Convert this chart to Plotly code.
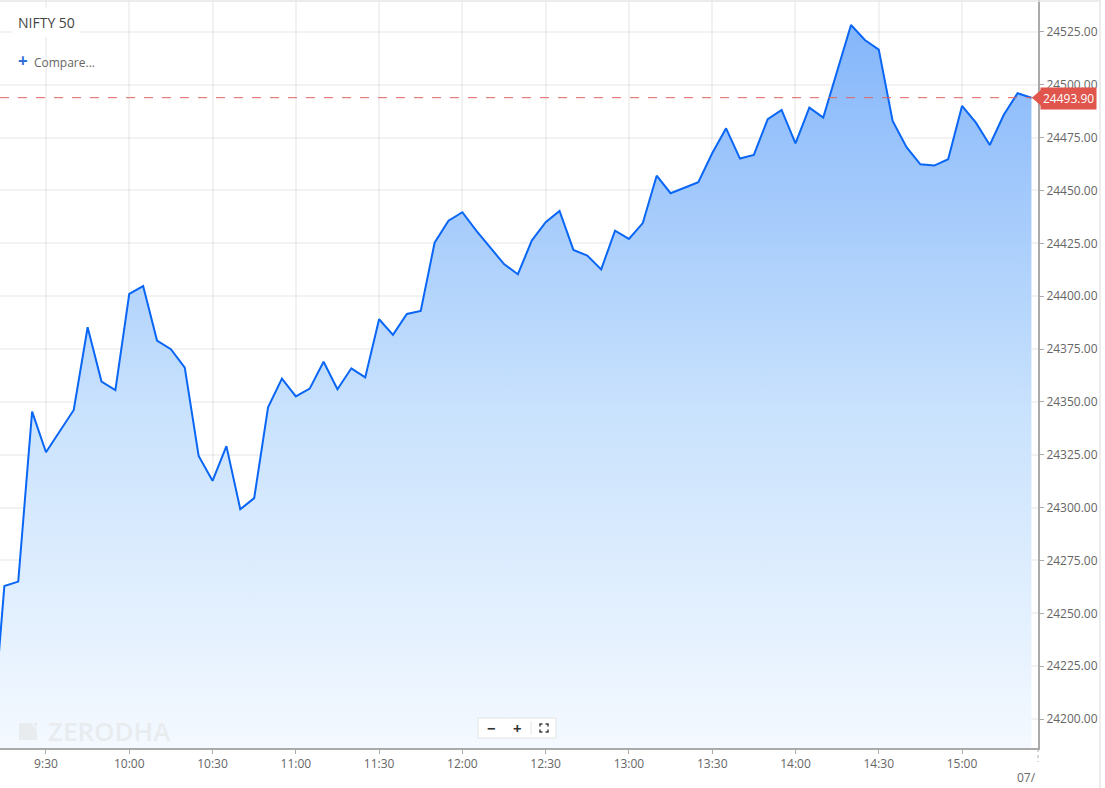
import pandas as pd
import plotly.graph_objects as go

# ---- data (5-minute closes, NIFTY 50) ----
session_day = "2024-10-04"
first_time = "09:10"
prices = [
    24182.0,                                                   # 09:10 (prior)
    24262.9, 24265.0, 24345.4, 24326.2, 24336.2, 24346.2,      # 09:15 - 09:40
    24385.3, 24359.6, 24355.6, 24401.1, 24404.8, 24379.0,      # 09:45 - 10:10
    24374.9, 24366.2, 24324.4, 24312.7, 24329.1, 24299.2,      # 10:15 - 10:40
    24304.5, 24347.4, 24361.0, 24352.6, 24356.3, 24369.0,      # 10:45 - 11:10
    24356.0, 24365.9, 24361.6, 24389.1, 24381.7, 24391.6,      # 11:15 - 11:40
    24393.0, 24425.3, 24435.7, 24439.7, 24431.0, 24423.0,      # 11:45 - 12:10
    24415.2, 24410.4, 24426.3, 24435.0, 24440.3, 24421.9,      # 12:15 - 12:40
    24419.2, 24412.7, 24431.0, 24427.1, 24434.6, 24457.0,      # 12:45 - 13:10
    24448.7, 24451.3, 24453.9, 24467.6, 24479.4, 24465.1,      # 13:15 - 13:40
    24466.8, 24483.7, 24488.1, 24472.3, 24489.2, 24484.5,      # 13:45 - 14:10
    24506.4, 24528.3, 24521.2, 24516.6, 24482.9, 24470.5,      # 14:15 - 14:40
    24462.4, 24461.8, 24464.8, 24490.0, 24482.1, 24471.5,      # 14:45 - 15:10
    24485.7, 24496.0, 24493.9,                                 # 15:15 - 15:25
]
last_price = 24493.90
instrument = "NIFTY 50"
watermark = "ZERODHA"
next_day_label = "07/"

times = pd.date_range(f"{session_day} {first_time}", periods=len(prices), freq="5min")

W, H = 1105, 788
PL, PR, PT, PB = 0, 1038, 0, 748
pw, ph = PR - PL, PB - PT

def px(x):
    return (x - PL) / pw

def py(y):
    return 1 - (y - PT) / ph

x_start = pd.Timestamp(f"{session_day} 09:13:26")
x_end = pd.Timestamp(f"{session_day} 15:27:22")
y_lo, y_hi = 24186.3, 24540.1

fig = go.Figure()
fig.add_trace(go.Scatter(
    x=times, y=prices, mode="lines",
    line=dict(color="#0a66f5", width=2),
    fill="tozeroy",
    fillgradient=dict(
        type="vertical",
        start=y_lo, stop=y_hi,
        colorscale=[[0, "rgba(244,249,255,1)"], [0.45, "#c9e2fd"], [1, "#80b3fa"]],
    ),
    hoverinfo="skip",
    showlegend=False,
))

font_family = "Open Sans, Noto Sans, sans-serif"

fig.update_layout(
    width=W, height=H,
    margin=dict(l=PL, r=W - PR, t=PT, b=H - PB),
    paper_bgcolor="white", plot_bgcolor="white",
    font=dict(family=font_family, size=12, color="#666"),
    xaxis=dict(
        range=[x_start, x_end],
        tick0=f"{session_day} 09:00", dtick=30 * 60 * 1000,
        tickformat="%-H:%M",
        showgrid=True, gridcolor="rgba(0,0,0,0.05)", gridwidth=1.5,
        showline=True, linecolor="#aaaaaa", linewidth=2,
        ticks="outside", ticklen=4, tickcolor="#aaaaaa",
        tickfont=dict(size=12, color="#666"),
        zeroline=False, fixedrange=True,
    ),
    yaxis=dict(
        range=[y_lo, y_hi], side="right",
        tick0=24200, dtick=25, tickformat=".2f",
        showgrid=True, gridcolor="rgba(0,0,0,0.05)", gridwidth=1.5,
        showline=True, linecolor="#aaaaaa", linewidth=2,
        ticks="outside", ticklen=4, tickcolor="#aaaaaa",
        tickfont=dict(size=12, color="#666"),
        zeroline=False, fixedrange=True,
    ),
)

shapes = []
# last price dashed line
shapes.append(dict(type="line", xref="paper", yref="y", x0=0, x1=1,
                   y0=last_price, y1=last_price,
                   line=dict(color="#e0645c", width=1, dash="dash"), layer="above"))
# price label arrow
shapes.append(dict(type="path", xref="paper", yref="y",
                   xsizemode="pixel", ysizemode="pixel",
                   xanchor=1, yanchor=last_price,
                   path="M-6,0 L4,9 L4,-9 Z",
                   fillcolor="#e0564c", line=dict(width=0), layer="above"))
# container borders
shapes.append(dict(type="line", xref="paper", yref="paper", x0=0, x1=1100 / pw,
                   y0=py(1), y1=py(1), line=dict(color="#e6e6e6", width=1.5)))
shapes.append(dict(type="line", xref="paper", yref="paper", x0=1100 / pw, x1=1100 / pw,
                   y0=py(0), y1=py(788), line=dict(color="#e6e6e6", width=1.5)))
# next-day dotted tick
shapes.append(dict(type="line", xref="paper", yref="paper", x0=1, x1=1,
                   y0=py(749), y1=py(762), line=dict(color="#aaaaaa", width=1, dash="dot")))
# watermark logo
shapes.append(dict(type="path", xref="paper", yref="paper",
                   xsizemode="pixel", ysizemode="pixel", xanchor=0, yanchor=0,
                   path="M19,8 L37,8 L37,18 L31,25 L19,25 Z",
                   fillcolor="#e9ecef", line=dict(width=0), layer="above"))
shapes.append(dict(type="path", xref="paper", yref="paper",
                   xsizemode="pixel", ysizemode="pixel", xanchor=0, yanchor=0,
                   path="M33,25 L37,25 L37,20 Z",
                   fillcolor="#e9ecef", line=dict(width=0), layer="above"))
# zoom control box
shapes.append(dict(type="rect", xref="paper", yref="paper",
                   x0=px(478), x1=px(556), y0=py(738), y1=py(718),
                   fillcolor="white", line=dict(color="#e4e4e4", width=1), layer="above"))
shapes.append(dict(type="line", xref="paper", yref="paper",
                   x0=px(531), x1=px(531), y0=py(735), y1=py(721),
                   line=dict(color="#e4e4e4", width=1), layer="above"))
shapes.append(dict(type="path", xref="paper", yref="paper",
                   xsizemode="pixel", ysizemode="pixel",
                   xanchor=px(544), yanchor=py(728),
                   path=("M-4,1.5 L-4,4 L-1.5,4 M1.5,4 L4,4 L4,1.5 "
                         "M4,-1.5 L4,-4 L1.5,-4 M-1.5,-4 L-4,-4 L-4,-1.5"),
                   line=dict(color="#444", width=1.5), layer="above"))
fig.update_layout(shapes=shapes)

ann = []
ann.append(dict(text=instrument, xref="paper", yref="paper", x=px(12), y=py(22),
                xanchor="left", yanchor="middle", showarrow=False,
                font=dict(size=14, color="#444"), bgcolor="white", borderpad=5))
ann.append(dict(text="<span style='color:#2f6fd8;font-size:17px'><b>+</b></span>  Compare...",
                xref="paper", yref="paper", x=px(16), y=py(61),
                xanchor="left", yanchor="middle", showarrow=False,
                font=dict(size=12, color="#666")))
ann.append(dict(text=watermark, xref="paper", yref="paper", x=px(46), y=py(731),
                xanchor="left", yanchor="middle", showarrow=False,
                font=dict(size=26, color="#e9ecef", weight=600)))
ann.append(dict(text=f"{last_price:.2f}", xref="paper", yref="y", x=1, y=last_price,
                xanchor="left", yanchor="middle", xshift=2, yshift=-1, showarrow=False,
                font=dict(size=12, color="white"), bgcolor="#e0564c", borderpad=2))
ann.append(dict(text="<b>−</b>", xref="paper", yref="paper", x=px(491), y=py(728),
                xanchor="center", yanchor="middle", showarrow=False,
                font=dict(size=15, color="#333")))
ann.append(dict(text="<b>+</b>", xref="paper", yref="paper", x=px(517), y=py(728),
                xanchor="center", yanchor="middle", showarrow=False,
                font=dict(size=15, color="#333")))
ann.append(dict(text=next_day_label, xref="paper", yref="paper", x=1, y=py(777),
                xanchor="right", yanchor="middle", showarrow=False,
                font=dict(size=12, color="#666")))
fig.update_layout(annotations=ann)

fig.write_html("out.html", config={"displayModeBar": False},
               post_script="document.body.style.margin='0';document.body.style.overflow='hidden';")
